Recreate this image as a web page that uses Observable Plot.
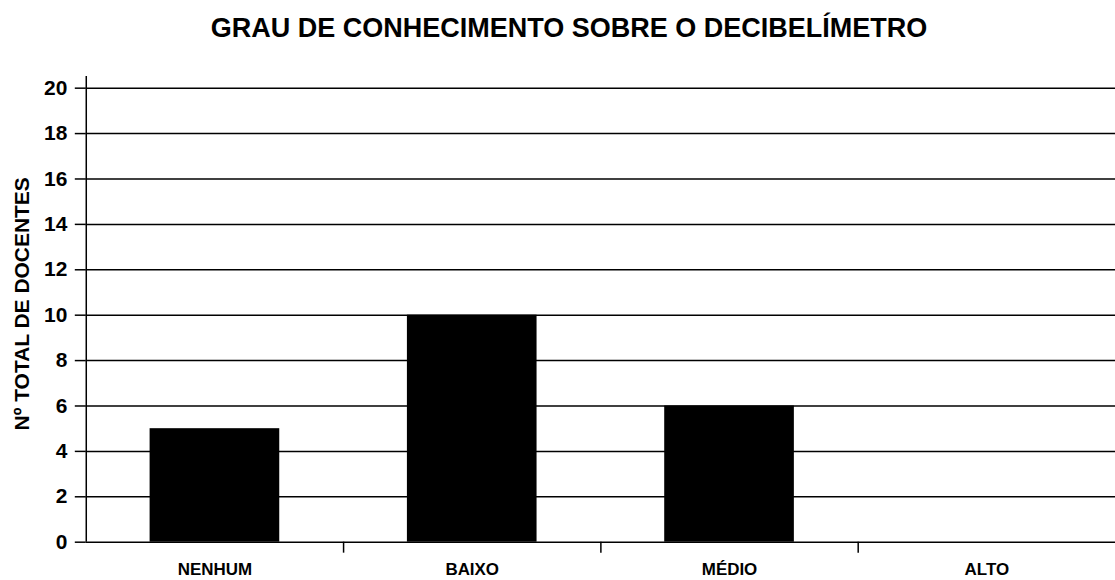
<!DOCTYPE html>
<html>
<head>
<meta charset="utf-8">
<script src="https://cdn.jsdelivr.net/npm/d3@7"></script>
<script src="https://cdn.jsdelivr.net/npm/@observablehq/plot@0.6"></script>
<style>
  html, body { margin: 0; padding: 0; background: #fff; overflow: hidden; }
  body { font-family: "Liberation Sans", Arial, sans-serif; }
  #title { height: 56px; line-height: 56px; font-size: 27px; font-weight: bold; text-align: center; color: #000; width: 1115px; padding-left: 23px; box-sizing: border-box; }
  svg { display: block; }
</style>
</head>
<body>
<div id="title">GRAU DE CONHECIMENTO SOBRE O DECIBELÍMETRO</div>
<div id="chart"></div>
<script>
const categories = ["NENHUM", "BAIXO", "MÉDIO", "ALTO"];
const values = [5, 10, 6, 0];
const yTicks = [0, 2, 4, 6, 8, 10, 12, 14, 16, 18, 20];
const yMax = 21;
const yLabel = "Nº TOTAL DE DOCENTES";

const data = categories.map((c, i) => ({category: c, value: values[i]}));

const width = 1118, height = 524;
const marginLeft = 86, marginRight = 0, marginTop = 9, marginBottom = 37;
const step = (width - marginLeft - marginRight) / categories.length;

const chart = Plot.plot({
  width, height, marginLeft, marginRight, marginTop, marginBottom,
  style: {fontFamily: "'Liberation Sans', Arial, sans-serif", color: "#000", background: "#fff"},
  x: {domain: categories, padding: 0, label: null},
  y: {domain: [0, yMax], label: null},
  marks: [
    Plot.ruleY(yTicks, {stroke: "#000", strokeWidth: 1.5}),
    Plot.barY(data, {x: "category", y: "value", fill: "#000", insetLeft: 64, insetRight: 64}),
    // y axis line
    Plot.ruleX([categories[0]], {x: d => d, dx: -step / 2, y1: 0, y2: yMax, insetBottom: -11, stroke: "#000", strokeWidth: 1.5}),
    // x ticks at category boundaries
    Plot.ruleX(categories.slice(1), {x: d => d, dx: -step / 2, y1: 0, y2: 0, insetBottom: -11, stroke: "#000", strokeWidth: 1.5}),
    Plot.axisY(yTicks, {tickSize: 11, tickPadding: 8, fontSize: 21, fontWeight: "bold", label: null, strokeWidth: 1.5}),
    Plot.axisX({tickSize: 0, tickPadding: 21, fontSize: 17, fontWeight: "bold", label: null}),
    Plot.text([yLabel], {frameAnchor: "left", textAnchor: "middle", text: d => d, rotate: -90, dx: -64, fontSize: 21, fontWeight: "bold", fill: "#000"})
  ]
});
document.getElementById("chart").appendChild(chart);
</script>
</body>
</html>
